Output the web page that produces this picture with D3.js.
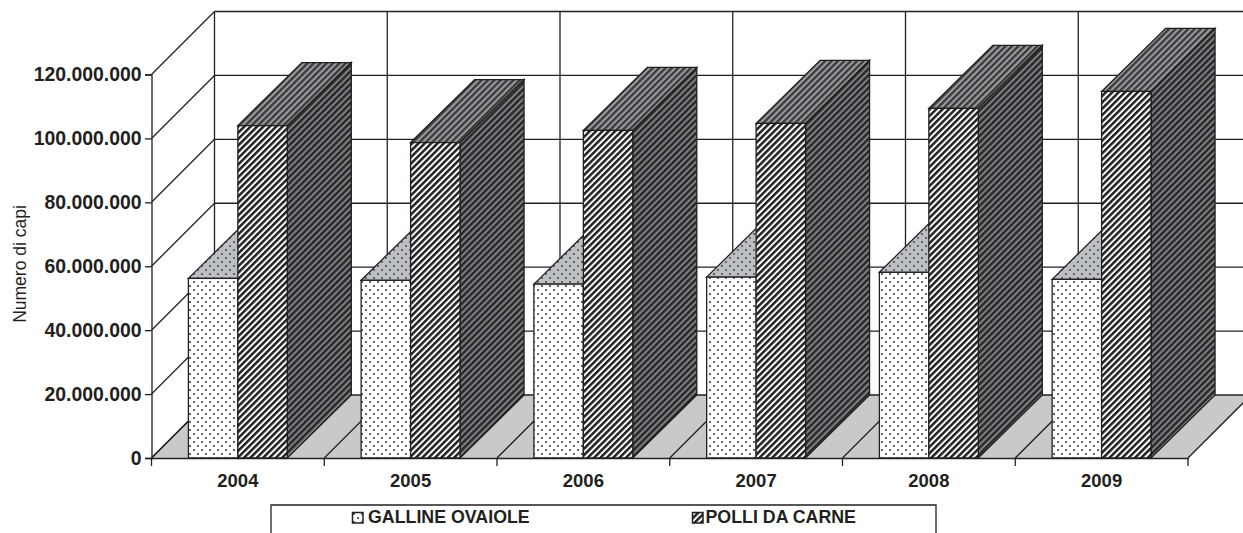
<!DOCTYPE html>
<html>
<head>
<meta charset="utf-8">
<script src="https://cdn.jsdelivr.net/npm/d3@7"></script>
<style>
html,body{margin:0;padding:0;background:#fff;overflow:hidden}
svg{display:block}
text{font-family:"Liberation Sans",Arial,sans-serif;fill:#231f20}
</style>
</head>
<body>
<div id="chart"></div>
<script>
const years = ["2004","2005","2006","2007","2008","2009"];
const seriesNames = ["GALLINE OVAIOLE","POLLI DA CARNE"];
const galline = [56200000,55600000,54400000,56600000,58100000,55900000];
const polli = [104000000,98700000,102500000,104700000,109400000,114700000];
const yTicks = [0,20000000,40000000,60000000,80000000,100000000,120000000];
const yTitle = "Numero di capi";

const W=1243,H=533, ink="#231f20";
const wallDx=63, wallDy=63, barDx=64, barDy=63;
const plotL=151.5, plotR=1188, plotB=458, plotT=74.5;

const svg=d3.select("#chart").append("svg").attr("width",W).attr("height",H);
const defs=svg.append("defs");
function stripes(id,bg,fg,sw){
  const p=defs.append("pattern").attr("id",id).attr("patternUnits","userSpaceOnUse")
    .attr("width",4.5).attr("height",4.5).attr("patternTransform","rotate(45)");
  p.append("rect").attr("width",4.5).attr("height",4.5).attr("fill",bg);
  p.append("rect").attr("width",sw).attr("height",4.5).attr("fill",fg);
}
function dots(id,bg,fg,r,s){
  const p=defs.append("pattern").attr("id",id).attr("patternUnits","userSpaceOnUse")
    .attr("width",s).attr("height",s);
  p.append("rect").attr("width",s).attr("height",s).attr("fill",bg);
  [[s/4,s/4],[3*s/4,3*s/4]].forEach(c=>p.append("circle").attr("cx",c[0]).attr("cy",c[1]).attr("r",r).attr("fill",fg));
}
dots("dotFront","#ffffff","#3f3f41",1.1,8);
dots("dotTop","#bcc0c4","#505356",1.1,8);
stripes("stFront","#ffffff","#231f20",2.5);
stripes("stTop","#9a9da0","#3a3a3c",2.4);
stripes("stSide","#7f8285","#28282a",2.5);

const x=d3.scaleBand().domain(years).range([plotL,plotR]);
const y=d3.scaleLinear().domain([0,120000000]).range([plotB,plotT]);
const inner=d3.scaleBand().domain(seriesNames).range([36.9,135.8]);
const edges=d3.range(years.length+1).map(i=>plotL+i*x.step());
const locale=d3.formatLocale({decimal:",",thousands:".",grouping:[3],currency:["",""]});
const fmt=locale.format(",d");

// floor
svg.append("polygon").attr("fill","#c8c9cb")
  .attr("points",[[plotL,plotB],[plotL+wallDx,plotB-wallDy],[plotR+wallDx,plotB-wallDy],[plotR,plotB]].join(" "));

const grid=svg.append("g").attr("stroke",ink).attr("stroke-width",1.3).attr("fill","none");
// back wall horizontals and left wall diagonals
yTicks.forEach(t=>{
  grid.append("line").attr("x1",plotL+wallDx).attr("x2",W+5).attr("y1",y(t)-wallDy).attr("y2",y(t)-wallDy);
  grid.append("line").attr("x1",plotL).attr("x2",plotL+wallDx).attr("y1",y(t)).attr("y2",y(t)-wallDy);
});
// back wall verticals and floor diagonals
edges.forEach(e=>{
  grid.append("line").attr("x1",e+wallDx).attr("x2",e+wallDx).attr("y1",y(120000000)-wallDy).attr("y2",plotB-wallDy);
  grid.append("line").attr("x1",e).attr("x2",e+wallDx).attr("y1",plotB).attr("y2",plotB-wallDy);
});

// bars
const barW=inner.bandwidth();
const rows=[{name:seriesNames[0],vals:galline,front:"dotFront",top:"dotTop",side:"dotTop"},
            {name:seriesNames[1],vals:polli,front:"stFront",top:"stTop",side:"stSide"}];
const bars=svg.append("g").attr("stroke",ink).attr("stroke-width",1.3).attr("stroke-linejoin","miter");
years.forEach((yr,i)=>{
  rows.forEach(r=>{
    const l=x(yr)+inner(r.name), rt=l+barW, t=y(r.vals[i]), b=y(0);
    const g=bars.append("g");
    g.append("polygon").attr("fill",`url(#${r.top})`)
      .attr("points",[[l,t],[l+barDx,t-barDy],[rt+barDx,t-barDy],[rt,t]].join(" "));
    g.append("polygon").attr("fill",`url(#${r.side})`)
      .attr("points",[[rt,t],[rt+barDx,t-barDy],[rt+barDx,b-barDy],[rt,b]].join(" "));
    g.append("rect").attr("x",l).attr("y",t).attr("width",barW).attr("height",b-t).attr("fill",`url(#${r.front})`);
  });
});

// axes
const yAxis=d3.axisLeft(y).tickValues(yTicks).tickFormat(fmt).tickSize(6.5).tickPadding(3.5);
const gy=svg.append("g").attr("transform",`translate(${plotL},0)`).call(yAxis);
gy.selectAll("path,line").attr("stroke",ink).attr("stroke-width",1.3);
gy.selectAll("text").attr("font-size",19.4).attr("font-weight","bold").attr("fill",ink)
  .style("font-family",'"Liberation Sans",Arial,sans-serif');

const xAxis=d3.axisBottom(x).tickSize(0).tickPadding(0);
const gx=svg.append("g").attr("transform",`translate(0,${plotB})`).call(xAxis);
gx.select("path").attr("stroke",ink).attr("stroke-width",1.3);
gx.selectAll("text").attr("font-size",18.5).attr("font-weight","bold").attr("fill",ink).attr("y",29).attr("dy",0)
  .style("font-family",'"Liberation Sans",Arial,sans-serif');
edges.forEach(e=>gx.append("line").attr("x1",e).attr("x2",e).attr("y1",0).attr("y2",8).attr("stroke",ink).attr("stroke-width",1.3));

svg.append("text").attr("transform","translate(26,264) rotate(-90)").attr("text-anchor","middle")
  .attr("font-size",17.5).text(yTitle);

// legend
const lg=svg.append("g");
lg.append("path").attr("d","M271,540V505H936V540").attr("fill","#fff").attr("stroke",ink).attr("stroke-width",1.3);
const legendItems=[{mx:352.5,tx:368,fill:"dotFront"},{mx:692.5,tx:705.5,fill:"stFront"}];
legendItems.forEach((it,i)=>{
  lg.append("rect").attr("x",it.mx).attr("y",512.5).attr("width",10.5).attr("height",10.5)
    .attr("fill",`url(#${it.fill})`).attr("stroke",ink).attr("stroke-width",1.5);
  lg.append("text").attr("x",it.tx).attr("y",523).attr("font-size",17.8).attr("font-weight","bold").text(seriesNames[i]);
});
</script>
</body>
</html>
